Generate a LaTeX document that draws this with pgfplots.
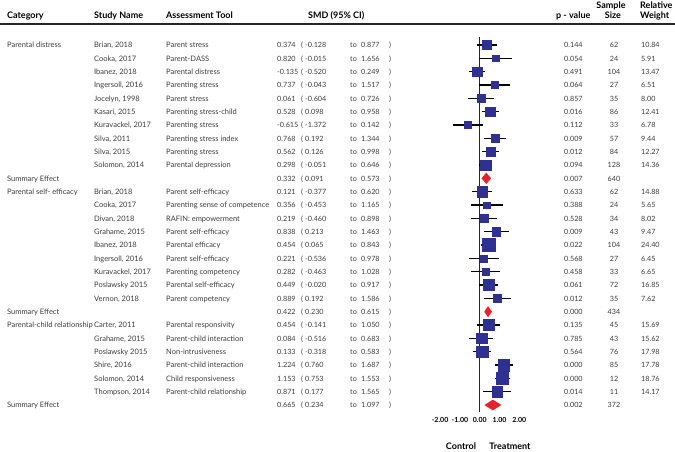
\documentclass[border=0pt]{standalone}
\usepackage{pgfplots}
\pgfplotsset{compat=1.18}
\usepackage{pgfplotstable}
\usepackage{fontspec}
\setmainfont{Lato}
\definecolor{sqblue}{HTML}{2E3192}
\definecolor{dred}{HTML}{E8212B}
\definecolor{txt}{HTML}{3C3C3C}

% row index, SMD, 95% CI, relative weight
\pgfplotstableread{
i  smd    lo     hi    w
0  0.374  -0.128 0.877 10.84
1  0.820  -0.015 1.656 5.91
2  -0.135 -0.520 0.249 13.47
3  0.737  -0.043 1.517 6.51
4  0.061  -0.604 0.726 8.00
5  0.528  0.098  0.958 12.41
6  -0.615 -1.372 0.142 6.78
7  0.768  0.192  1.344 9.44
8  0.562  0.126  0.998 12.27
9  0.298  -0.051 0.646 14.36
11 0.121  -0.377 0.620 14.88
12 0.356  -0.453 1.165 5.65
13 0.219  -0.460 0.898 8.02
14 0.838  0.213  1.463 9.47
15 0.454  0.065  0.843 24.40
16 0.221  -0.536 0.978 6.45
17 0.282  -0.463 1.028 6.65
18 0.449  -0.020 0.917 16.85
19 0.889  0.192  1.586 7.62
21 0.454  -0.141 1.050 15.69
22 0.084  -0.516 0.683 15.62
23 0.133  -0.318 0.583 17.98
24 1.224  0.760  1.687 17.78
25 1.153  0.753  1.553 18.76
26 0.871  0.177  1.565 14.17
}\studies

\newcommand\body{\fontsize{7.5}{9}\selectfont}
\newcommand\num{\fontsize{7.2}{9}\selectfont}
\newcommand\head{\fontsize{9}{11}\selectfont\bfseries}
\tikzset{
  c/.style={anchor=base west, inner sep=0pt, font=\body, text=txt},
  n/.style={c, font=\num},
  cc/.style={n, anchor=base},
  h/.style={anchor=base west, inner sep=0pt, font=\head, text=black},
}
% the "SMD ( lo to hi )" cell
\newcommand\ci[4]{%
  \node[n] at (277,#1+0.2) {#2};
  \node[n] at (301,#1+0.2) {(};
  \node[n] at (305,#1+0.2) {#3};
  \node[n] at (350,#1+0.2) {to};
  \node[n] at (361,#1+0.2) {#4};
  \node[n] at (389,#1+0.2) {)};}
\newcommand\st[9]{%
  \node[c] at (94,#1+0.2) {#2};
  \node[c] at (166,#1+0.2) {#3};
  \ci{#1}{#4}{#5}{#6}
  \node[n] at (564,#1+0.2) {#7};
  \node[cc] at (614,#1+0.2) {#8};
  \node[n] at (641,#1+0.2) {#9};}
\newcommand\sm[6]{%
  \node[c] at (7,#1+0.2) {Summary Effect};
  \ci{#1}{#2}{#3}{#4}
  \node[n] at (564,#1+0.2) {#5};
  \node[cc] at (614,#1+0.2) {#6};}

\begin{document}
\begin{tikzpicture}
\path[use as bounding box] (0pt,0pt) rectangle (675pt,-451pt);

% header, in pixel units
\begin{scope}[x=1pt,y=-1pt]
  \node[h] at (7,18.2) {Category};
  \node[h] at (94,18.2) {Study Name};
  \node[h] at (166,18.2) {Assessment Tool};
  \node[h] at (308,18.2) {SMD (95\% CI)};
  \node[h] at (556,18.2) {p - value};
  \node[h,anchor=base] at (611,8.2) {Sample};
  \node[h,anchor=base] at (613,18.2) {Size};
  \node[h] at (640,8.2) {Relative};
  \node[h] at (640,18.2) {Weight};
  \draw[line width=2.5pt, black!85] (0,24) -- (675,24);
  \node[h,anchor=base] at (461,449.8) {Control};
  \node[h,anchor=base] at (510,449.8) {Treatment};
\end{scope}

% table rows
\begin{scope}[x=1pt,y=-13.3333pt,shift={(0pt,-45pt)}]
  \node[c] at (7,0.2) {Parental distress};
  \st{0}{Brian, 2018}{Parent stress}{0.374}{-0.128}{0.877}{0.144}{62}{10.84}
  \st{1}{Cooka, 2017}{Parent-DASS}{0.820}{-0.015}{1.656}{0.054}{24}{5.91}
  \st{2}{Ibanez, 2018}{Parental distress}{-0.135}{-0.520}{0.249}{0.491}{104}{13.47}
  \st{3}{Ingersoll, 2016}{Parenting stress}{0.737}{-0.043}{1.517}{0.064}{27}{6.51}
  \st{4}{Jocelyn, 1998}{Parent stress}{0.061}{-0.604}{0.726}{0.857}{35}{8.00}
  \st{5}{Kasari, 2015}{Parenting stress-child}{0.528}{0.098}{0.958}{0.016}{86}{12.41}
  \st{6}{Kuravackel, 2017}{Parenting stress}{-0.615}{-1.372}{0.142}{0.112}{33}{6.78}
  \st{7}{Silva, 2011}{Parenting stress index}{0.768}{0.192}{1.344}{0.009}{57}{9.44}
  \st{8}{Silva, 2015}{Parenting stress}{0.562}{0.126}{0.998}{0.012}{84}{12.27}
  \st{9}{Solomon, 2014}{Parental depression}{0.298}{-0.051}{0.646}{0.094}{128}{14.36}
  \sm{10}{0.332}{0.091}{0.573}{0.007}{640}
  \node[c] at (7,11.2) {Parental self- efficacy};
  \st{11}{Brian, 2018}{Parent self-efficacy}{0.121}{-0.377}{0.620}{0.633}{62}{14.88}
  \st{12}{Cooka, 2017}{Parenting sense of competence}{0.356}{-0.453}{1.165}{0.388}{24}{5.65}
  \st{13}{Divan, 2018}{RAFIN: empowerment}{0.219}{-0.460}{0.898}{0.528}{34}{8.02}
  \st{14}{Grahame, 2015}{Parent self-efficacy}{0.838}{0.213}{1.463}{0.009}{43}{9.47}
  \st{15}{Ibanez, 2018}{Parental efficacy}{0.454}{0.065}{0.843}{0.022}{104}{24.40}
  \st{16}{Ingersoll, 2016}{Parent self-efficacy}{0.221}{-0.536}{0.978}{0.568}{27}{6.45}
  \st{17}{Kuravackel, 2017}{Parenting competency}{0.282}{-0.463}{1.028}{0.458}{33}{6.65}
  \st{18}{Poslawsky 2015}{Parental self-efficacy}{0.449}{-0.020}{0.917}{0.061}{72}{16.85}
  \st{19}{Vernon, 2018}{Parent competency}{0.889}{0.192}{1.586}{0.012}{35}{7.62}
  \sm{20}{0.422}{0.230}{0.615}{0.000}{434}
  \node[c] at (7,21.2) {Parental-child relationship};
  \st{21}{Carter, 2011}{Parental responsivity}{0.454}{-0.141}{1.050}{0.135}{45}{15.69}
  \st{22}{Grahame, 2015}{Parent-child interaction}{0.084}{-0.516}{0.683}{0.785}{43}{15.62}
  \st{23}{Poslawsky 2015}{Non-intrusiveness}{0.133}{-0.318}{0.583}{0.564}{76}{17.98}
  \st{24}{Shire, 2016}{Parent-child interaction}{1.224}{0.760}{1.687}{0.000}{85}{17.78}
  \st{25}{Solomon, 2014}{Child responsiveness}{1.153}{0.753}{1.553}{0.000}{12}{18.76}
  \st{26}{Thompson, 2014}{Parent-child relationship}{0.871}{0.177}{1.565}{0.014}{11}{14.17}
  \sm{27}{0.665}{0.234}{1.097}{0.002}{372}
\end{scope}

% forest plot
\begin{axis}[
  at={(430.2pt,-30pt)}, anchor=north west,
  scale only axis, width=99pt, height=384pt,
  xmin=-2.5, xmax=2.5, ymin=-1.125, ymax=27.675, y dir=reverse,
  clip=false, axis line style={draw=none},
  ytick=\empty, xtick={-2,-1,0,1,2},
  xticklabels={-2.00,-1.00,0.00,1.00,2.00},
  major tick length=0pt,
  xticklabel style={font=\fontsize{7}{8}\selectfont\bfseries, text=black},
]
\addplot[black!85, line width=1.3pt] coordinates {(0,-0.6) (0,27.5)};
\addplot[mark=none, draw=none, forget plot,
  error bars/.cd, x dir=both, x explicit, error mark=none,
  error bar style={draw=black, line width=1.3pt}]
  table[x=smd, y=i, x error plus expr=\thisrow{hi}-\thisrow{smd},
        x error minus expr=\thisrow{smd}-\thisrow{lo}] {\studies};
\addplot[scatter, only marks, mark=square*, point meta=\thisrow{w},
  scatter/use mapped color={draw=sqblue, fill=sqblue},
  visualization depends on={1.35*sqrt(\thisrow{w}) \as \msz},
  scatter/@pre marker code/.append style={/tikz/mark size=\msz, /tikz/line width=0.4pt}]
  table[x=smd, y=i] {\studies};
\addplot[fill=dred, draw=none] coordinates {(0.091,10) (0.332,9.57) (0.573,10) (0.332,10.43)} -- cycle;
\addplot[fill=dred, draw=none] coordinates {(0.230,20) (0.422,19.58) (0.615,20) (0.422,20.42)} -- cycle;
\addplot[fill=dred, draw=none] coordinates {(0.234,27) (0.665,26.6) (1.097,27) (0.665,27.4)} -- cycle;
\end{axis}
\end{tikzpicture}
\end{document}
